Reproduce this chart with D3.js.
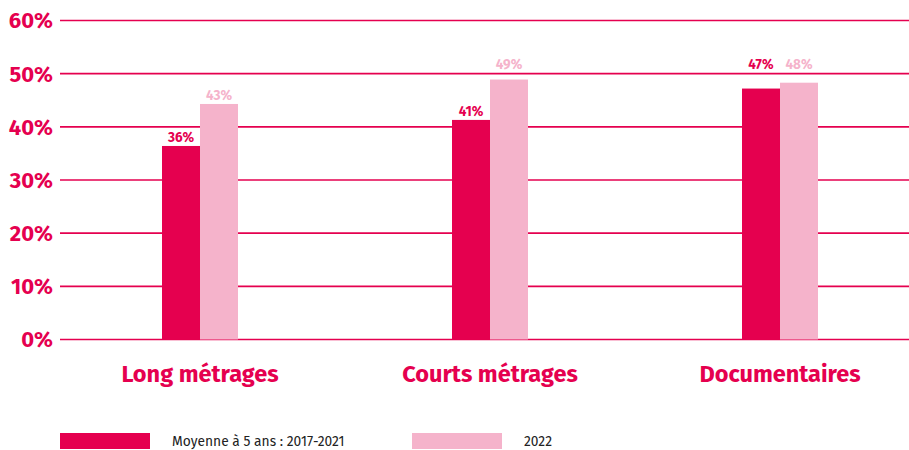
<!DOCTYPE html>
<html>
<head>
<meta charset="utf-8">
<script src="https://cdn.jsdelivr.net/npm/d3@7"></script>
<style>
  html, body { margin: 0; padding: 0; background: #fff; }
  svg { display: block; font-family: "Fira Sans", Roboto, "Open Sans", sans-serif; }
</style>
</head>
<body>
<svg id="chart" width="909" height="450"></svg>
<script>
const categories = ["Long métrages", "Courts métrages", "Documentaires"];
const seriesNames = ["Moyenne à 5 ans : 2017-2021", "2022"];
const seriesAvg = [36.4, 41.3, 47.2];
const series2022 = [44.3, 48.9, 48.3];
const labelsAvg = ["36%", "41%", "47%"];
const labels2022 = ["43%", "49%", "48%"];
const yTicks = [0, 10, 20, 30, 40, 50, 60];
const yTickLabels = ["0%", "10%", "20%", "30%", "40%", "50%", "60%"];

const DARK = "#e5004f";
const LIGHT = "#f5b3cb";

const svg = d3.select("#chart");
const y = d3.scaleLinear().domain([0, 60]).range([339.5, 20.5]);
const x0 = d3.scaleBand().domain(categories).range([55, 925]).padding(0);
const x1 = d3.scaleBand().domain(seriesNames).range([-38, 38]).padding(0);

// gridlines
svg.append("g").selectAll("line").data(yTicks).join("line")
  .attr("x1", 60).attr("x2", 909)
  .attr("y1", d => y(d)).attr("y2", d => y(d))
  .attr("stroke", DARK).attr("stroke-width", 1.6);

// y tick labels
svg.append("g").selectAll("text").data(yTicks).join("text")
  .attr("x", 53).attr("y", d => y(d))
  .attr("dy", "0.36em")
  .attr("text-anchor", "end")
  .attr("fill", DARK)
  .attr("font-weight", 700)
  .attr("font-size", 22)
  .text((d, i) => yTickLabels[i]);

const series = [
  { name: seriesNames[0], values: seriesAvg, labels: labelsAvg, color: DARK },
  { name: seriesNames[1], values: series2022, labels: labels2022, color: LIGHT }
];

const groups = svg.append("g").selectAll("g").data(series).join("g");
groups.selectAll("rect").data(s => s.values.map((v, i) => ({ v, c: categories[i], s })))
  .join("rect")
  .attr("x", d => x0(d.c) + x0.bandwidth() / 2 + x1(d.s.name))
  .attr("width", x1.bandwidth())
  .attr("y", d => y(d.v))
  .attr("height", d => y(0) - y(d.v))
  .attr("fill", d => d.s.color);

// value labels
const limit = y(50);
groups.selectAll("text").data(s => s.values.map((v, i) => ({ v, c: categories[i], s, l: s.labels[i] })))
  .join("text")
  .attr("x", d => x0(d.c) + x0.bandwidth() / 2 + x1(d.s.name) + x1.bandwidth() / 2)
  .attr("y", d => {
    let yy = y(d.v) - 4;
    if (yy - 5 < limit + 8) yy = limit - 5;
    return yy;
  })
  .attr("text-anchor", "middle")
  .attr("fill", d => d.s.color)
  .attr("font-weight", 700)
  .attr("font-size", 13.5)
  .text(d => d.l);

// category labels
svg.append("g").selectAll("text").data(categories).join("text")
  .attr("x", d => x0(d) + x0.bandwidth() / 2)
  .attr("y", 381.5)
  .attr("text-anchor", "middle")
  .attr("fill", DARK)
  .attr("font-weight", 700)
  .attr("font-size", 23.5)
  .text(d => d);

// legend
const legendX = [60, 412];
const legendTextX = [172, 524];
const lg = svg.append("g").selectAll("g").data(series).join("g");
lg.append("rect")
  .attr("x", (d, i) => legendX[i]).attr("y", 433)
  .attr("width", 90).attr("height", 16)
  .attr("fill", d => d.color);
lg.append("text")
  .attr("x", (d, i) => legendTextX[i]).attr("y", 446)
  .attr("fill", "#222")
  .attr("font-size", 13.8)
  .text(d => d.name);
</script>
</body>
</html>
